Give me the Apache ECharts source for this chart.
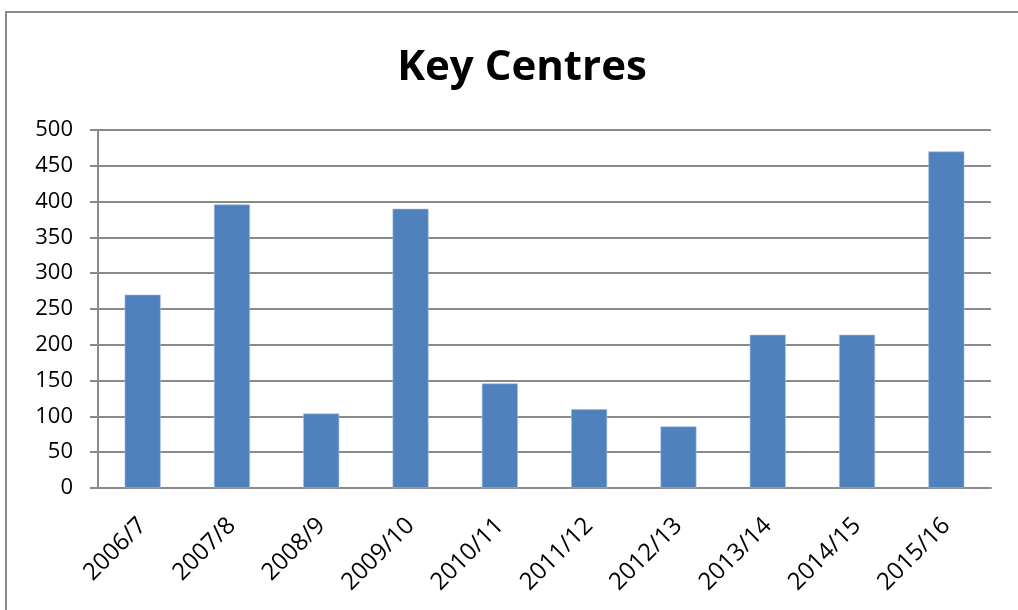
<!DOCTYPE html>
<html>
<head>
<meta charset="utf-8">
<script src="https://cdn.jsdelivr.net/npm/echarts@6/dist/echarts.min.js"></script>
<style>
  html, body { margin: 0; padding: 0; background: #fff; }
  #chart { width: 1018px; height: 610px; }
</style>
</head>
<body>
<div id="chart"></div>
<script>
// data
var years = ['2006/7', '2007/8', '2008/9', '2009/10', '2010/11', '2011/12', '2012/13', '2013/14', '2014/15', '2015/16'];
var centres = [270, 396, 104, 390, 146, 110, 86, 214, 214, 470];

var chart = echarts.init(document.getElementById('chart'));

var option = {
  backgroundColor: '#fff',
  animation: false,
  title: {
    text: 'Key Centres',
    left: 517,
    textAlign: 'center',
    top: 42,
    textStyle: { fontFamily: 'Open Sans', fontSize: 42, fontWeight: 'bold', color: '#000' }
  },
  // outer frame, clipped on right and bottom like the original
  graphic: [{
    type: 'rect',
    shape: { x: 6, y: 12, width: 1030, height: 620 },
    style: { fill: 'none', stroke: '#8a8a8a', lineWidth: 2 },
    silent: true
  }],
  grid: { left: 98, right: 27, top: 130, bottom: 122 },
  xAxis: {
    type: 'category',
    data: years,
    axisLine: { lineStyle: { color: '#8a8a8a', width: 2 } },
    axisTick: { alignWithLabel: false, length: 8, lineStyle: { color: '#8a8a8a', width: 2 } },
    axisLabel: {
      rotate: 45, margin: 34, fontFamily: 'Open Sans', fontSize: 24, color: '#000'
    }
  },
  yAxis: {
    type: 'value',
    min: 0,
    max: 500,
    interval: 50,
    axisLine: { show: true, lineStyle: { color: '#8a8a8a', width: 2 } },
    axisTick: { show: true, length: 8, lineStyle: { color: '#8a8a8a', width: 2 } },
    axisLabel: { margin: 25, fontFamily: 'Open Sans', fontSize: 22, color: '#000' },
    splitLine: { lineStyle: { color: '#8a8a8a', width: 2 } }
  },
  series: [{
    name: 'Key Centres',
    type: 'bar',
    data: centres,
    barWidth: 36,
    itemStyle: { color: '#4f81bd', borderColor: '#a7c0de', borderWidth: 0.6 }
  }]
};

chart.setOption(option);
</script>
</body>
</html>
